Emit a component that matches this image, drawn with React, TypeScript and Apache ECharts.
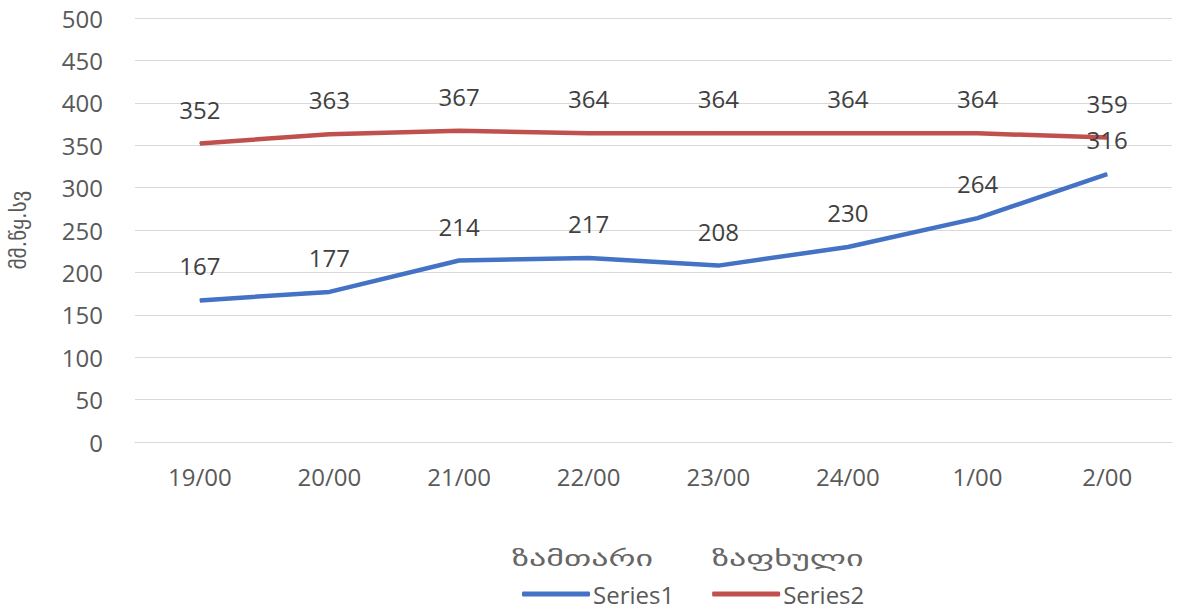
import React, { useEffect, useRef } from "react";
import * as echarts from "echarts";

const categories = ["19/00", "20/00", "21/00", "22/00", "23/00", "24/00", "1/00", "2/00"];
const series1 = [167, 177, 214, 217, 208, 230, 264, 316];
const series2 = [352, 363, 367, 364, 364, 364, 364, 359];
const yAxisTitle = "მმ.წყ.სვ";
const legendCaptions = ["ზამთარი", "ზაფხული"];

const FONT = "'Open Sans', 'DejaVu Sans', sans-serif";
const GEO = "'DejaVu Sans', sans-serif";
const FS = 24;

export default function App() {
  const ref = useRef<HTMLDivElement>(null);
  useEffect(() => {
    if (!ref.current) return;
    const chart = echarts.init(ref.current, null, { renderer: "svg" });
    const labelCfg = { show: true, position: "top", distance: 22, color: "#404040", fontSize: FS, fontFamily: FONT };
    chart.setOption({
      animation: false,
      textStyle: { fontFamily: FONT },
      grid: { left: 132, right: 20, top: 18, bottom: 169, containLabel: false },
      xAxis: {
        type: "category",
        data: categories,
        boundaryGap: true,
        axisLine: { show: true, lineStyle: { color: "#d9d9d9", width: 1 } },
        axisTick: { show: false },
        axisLabel: { color: "#595959", fontSize: FS, margin: 22, fontFamily: FONT },
      },
      yAxis: {
        type: "value",
        min: 0,
        max: 500,
        interval: 50,
        name: yAxisTitle,
        nameLocation: "middle",
        nameRotate: 90,
        nameGap: 106,
        nameTextStyle: { color: "#595959", fontSize: 21, fontFamily: GEO },
        axisLine: { show: false },
        axisTick: { show: false },
        axisLabel: { color: "#595959", fontSize: FS, margin: 32, fontFamily: FONT },
        splitLine: { lineStyle: { color: "#d9d9d9", width: 1 } },
      },
      legend: {
        top: 582,
        left: 522,
        padding: 0,
        itemWidth: 68,
        itemHeight: 5,
        itemGap: 38,
        icon: "roundRect",
        textStyle: { color: "#595959", fontSize: 24, lineHeight: 24, fontFamily: FONT, padding: [0, 0, 0, -2] },
        data: ["Series1", "Series2"],
      },
      graphic: [
        {
          type: "text",
          x: 512,
          y: 559,
          scaleX: 1.62,
          style: { text: legendCaptions[0], fontSize: 21, fill: "#666666", fontFamily: GEO, textVerticalAlign: "middle" },
        },
        {
          type: "text",
          x: 712,
          y: 559,
          scaleX: 1.62,
          style: { text: legendCaptions[1], fontSize: 21, fill: "#666666", fontFamily: GEO, textVerticalAlign: "middle" },
        },
      ],
      series: [
        {
          name: "Series1",
          type: "line",
          data: series1,
          symbol: "circle",
          symbolSize: 1,
          showSymbol: true,
          lineStyle: { color: "#4472C4", width: 4.5 },
          itemStyle: { color: "#4472C4" },
          label: labelCfg,
        },
        {
          name: "Series2",
          type: "line",
          data: series2,
          symbol: "circle",
          symbolSize: 1,
          showSymbol: true,
          lineStyle: { color: "#C0504D", width: 4.5 },
          itemStyle: { color: "#C0504D" },
          label: labelCfg,
        },
      ],
    });
    return () => chart.dispose();
  }, []);
  return <div ref={ref} style={{ width: 1192, height: 611, position: "absolute", left: 0, top: 0 }} />;
}
